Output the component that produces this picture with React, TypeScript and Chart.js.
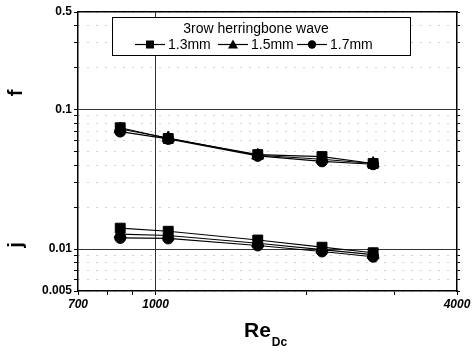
import React, { useEffect, useRef } from 'react';
import { Chart, registerables } from 'chart.js';

Chart.register(...registerables);

const reynolds = [850, 1060, 1600, 2150, 2720];
const f13 = [0.074, 0.062, 0.0475, 0.046, 0.041];
const f15 = [0.0725, 0.0625, 0.047, 0.044, 0.041];
const f17 = [0.0695, 0.0615, 0.0465, 0.0425, 0.0405];
const j13 = [0.0141, 0.0134, 0.0116, 0.0103, 0.0094];
const j15 = [0.0128, 0.0125, 0.011, 0.0099, 0.0091];
const j17 = [0.012, 0.0119, 0.0106, 0.0096, 0.0088];
const seriesLabels = ['1.3mm', '1.5mm', '1.7mm'];
const legendTitle = '3row herringbone wave';
const xTickValues = [700, 800, 900, 1000, 2000, 3000, 4000];
const xLabelValues = [700, 1000, 4000];
const yTickValues = [0.005, 0.006, 0.007, 0.008, 0.009, 0.01, 0.02, 0.03, 0.04, 0.05, 0.06, 0.07, 0.08, 0.09, 0.1, 0.2, 0.3, 0.4, 0.5];
const yLabelValues = [0.005, 0.01, 0.1, 0.5];
const ySolidGrid = [0.01, 0.1];
const xSolidGrid = [1000];

const near = (a: number, b: number) => Math.abs(a - b) / b < 1e-6;
const inList = (v: number, list: number[]) => list.some((b) => near(v, b));

const styles = ['rect', 'triangle', 'circle'];
const radii = [7, 7, 5.5];

export default function App() {
  const ref = useRef<HTMLCanvasElement>(null);
  useEffect(() => {
    const canvas = ref.current!;
    const toPts = (ys: number[]) => reynolds.map((x, i) => ({ x, y: ys[i] }));
    const mk = (ys: number[], k: number) => ({
      label: seriesLabels[k],
      data: toPts(ys),
      borderColor: '#000',
      backgroundColor: '#000',
      borderWidth: 1.2,
      pointStyle: styles[k],
      pointRadius: radii[k],
      pointBorderWidth: 1,
      showLine: true,
      fill: false,
      tension: 0,
    });
    const fSeries = [f13, f15, f17];
    const jSeries = [j13, j15, j17];
    const datasets: any[] = [];
    fSeries.forEach((s, k) => datasets.push(mk(s, k)));
    jSeries.forEach((s, k) => datasets.push(mk(s, k)));

    const overlay = {
      id: 'overlay',
      afterDraw(chart: any) {
        const ctx = chart.ctx as CanvasRenderingContext2D;
        ctx.save();
        // legend box
        const bx = 112.5, by = 17.5, bw = 298, bh = 38;
        ctx.fillStyle = '#fff';
        ctx.fillRect(bx, by, bw, bh);
        ctx.strokeStyle = '#000';
        ctx.lineWidth = 1;
        ctx.strokeRect(bx, by, bw, bh);
        ctx.fillStyle = '#000';
        ctx.font = '14px "Liberation Sans", Arial, sans-serif';
        ctx.textAlign = 'center';
        ctx.textBaseline = 'middle';
        ctx.fillText(legendTitle, 256, by + 12);
        const rowY = by + 27;
        const starts = [135, 218, 297];
        ctx.textAlign = 'left';
        seriesLabels.forEach((lab, k) => {
          const x0 = starts[k];
          ctx.beginPath();
          ctx.moveTo(x0, rowY);
          ctx.lineTo(x0 + 30, rowY);
          ctx.lineWidth = 1.2;
          ctx.stroke();
          const cx = x0 + 15;
          ctx.beginPath();
          if (styles[k] === 'rect') {
            ctx.rect(cx - 4, rowY - 4, 8, 8);
          } else if (styles[k] === 'triangle') {
            ctx.moveTo(cx, rowY - 5);
            ctx.lineTo(cx + 5, rowY + 4);
            ctx.lineTo(cx - 5, rowY + 4);
            ctx.closePath();
          } else {
            ctx.arc(cx, rowY, 4.2, 0, Math.PI * 2);
          }
          ctx.fill();
          ctx.fillText(lab, x0 + 33, rowY + 1);
        });
        // axis titles
        ctx.font = 'bold 20px "Liberation Sans", Arial, sans-serif';
        ctx.textAlign = 'center';
        ctx.textBaseline = 'middle';
        const drawRot = (t: string, x: number, y: number) => {
          ctx.save();
          ctx.translate(x, y);
          ctx.rotate(-Math.PI / 2);
          ctx.fillText(t, 0, 0);
          ctx.restore();
        };
        drawRot('f', 16, 93);
        drawRot('j', 16, 245);
        ctx.textAlign = 'left';
        ctx.textBaseline = 'alphabetic';
        ctx.font = 'bold 21px "Liberation Sans", Arial, sans-serif';
        const reX = 244;
        ctx.fillText('Re', reX, 337);
        const w = ctx.measureText('Re').width;
        ctx.font = 'bold 12px "Liberation Sans", Arial, sans-serif';
        ctx.fillText('Dc', reX + w + 1, 346);
        ctx.restore();
      },
    };

    const chart = new Chart(canvas, {
      type: 'scatter',
      data: { datasets },
      options: {
        animation: false,
        responsive: false,
        maintainAspectRatio: false,
        layout: { padding: 0 },
        plugins: { legend: { display: false }, tooltip: { enabled: false }, title: { display: false } },
        scales: {
          x: {
            type: 'logarithmic',
            position: 'bottom',
            min: 700,
            max: 4000,
            afterBuildTicks: (s: any) => { s.ticks = xTickValues.map((v) => ({ value: v })); },
            afterFit: (s: any) => { s.height = 354 - 291; },
            ticks: {
              autoSkip: false,
              maxRotation: 0,
              color: '#000',
              padding: 2,
              font: { family: '"Liberation Sans", Arial, sans-serif', size: 12, weight: 'bold', style: 'italic' },
              callback: (v: any) => (inList(Number(v), xLabelValues) ? String(v) : ''),
            },
            grid: {
              color: (c: any) => (c.tick && inList(c.tick.value, xSolidGrid) ? '#333' : 'rgba(0,0,0,0)'),
              lineWidth: 1,
              tickColor: '#000',
              tickLength: 4,
              tickWidth: 1,
            },
            border: { display: true, color: '#000', width: 1.5 },
          },
          x2: {
            type: 'linear',
            position: 'top',
            min: 0,
            max: 1,
            afterFit: (s: any) => { s.height = 12; },
            ticks: { display: false },
            grid: { drawOnChartArea: false, drawTicks: false },
            border: { display: true, color: '#000', width: 1.5 },
          },
          y: {
            type: 'logarithmic',
            position: 'left',
            min: 0.005,
            max: 0.5,
            afterBuildTicks: (s: any) => { s.ticks = yTickValues.map((v) => ({ value: v })); },
            afterFit: (s: any) => { s.width = 78; },
            ticks: {
              autoSkip: false,
              color: '#000',
              padding: 2,
              font: { family: '"Liberation Sans", Arial, sans-serif', size: 12, weight: 'bold' },
              callback: (v: any) => {
                const n = Number(v);
                const hit = yLabelValues.find((b) => near(n, b));
                return hit !== undefined ? String(hit) : '';
              },
            },
            grid: {
              color: (c: any) => (c.tick && inList(c.tick.value, ySolidGrid) ? '#333' : '#a0a0a0'),
              lineWidth: 1,
              tickColor: '#000',
              tickLength: 4,
              tickWidth: 1,
            },
            border: {
              display: true,
              color: '#000',
              width: 1.5,
              dash: (c: any) => (c.tick && inList(c.tick.value, ySolidGrid) ? [] : [1, 8]),
            } as any,
          },
          y2: {
            type: 'logarithmic',
            position: 'right',
            min: 0.005,
            max: 0.5,
            afterBuildTicks: (s: any) => { s.ticks = yTickValues.map((v) => ({ value: v })); },
            afterFit: (s: any) => { s.width = 474 - 457; },
            ticks: { display: false },
            grid: { drawOnChartArea: false, tickLength: 3, tickColor: '#000' },
            border: { display: true, color: '#000', width: 1.5 },
          },
        },
      } as any,
      plugins: [overlay],
    });
    return () => chart.destroy();
  }, []);
  return (
    <div style={{ position: 'fixed', left: 0, top: 0, width: 474, height: 354, background: '#fff' }}>
      <canvas ref={ref} width={474} height={354} style={{ width: 474, height: 354 }} />
    </div>
  );
}
